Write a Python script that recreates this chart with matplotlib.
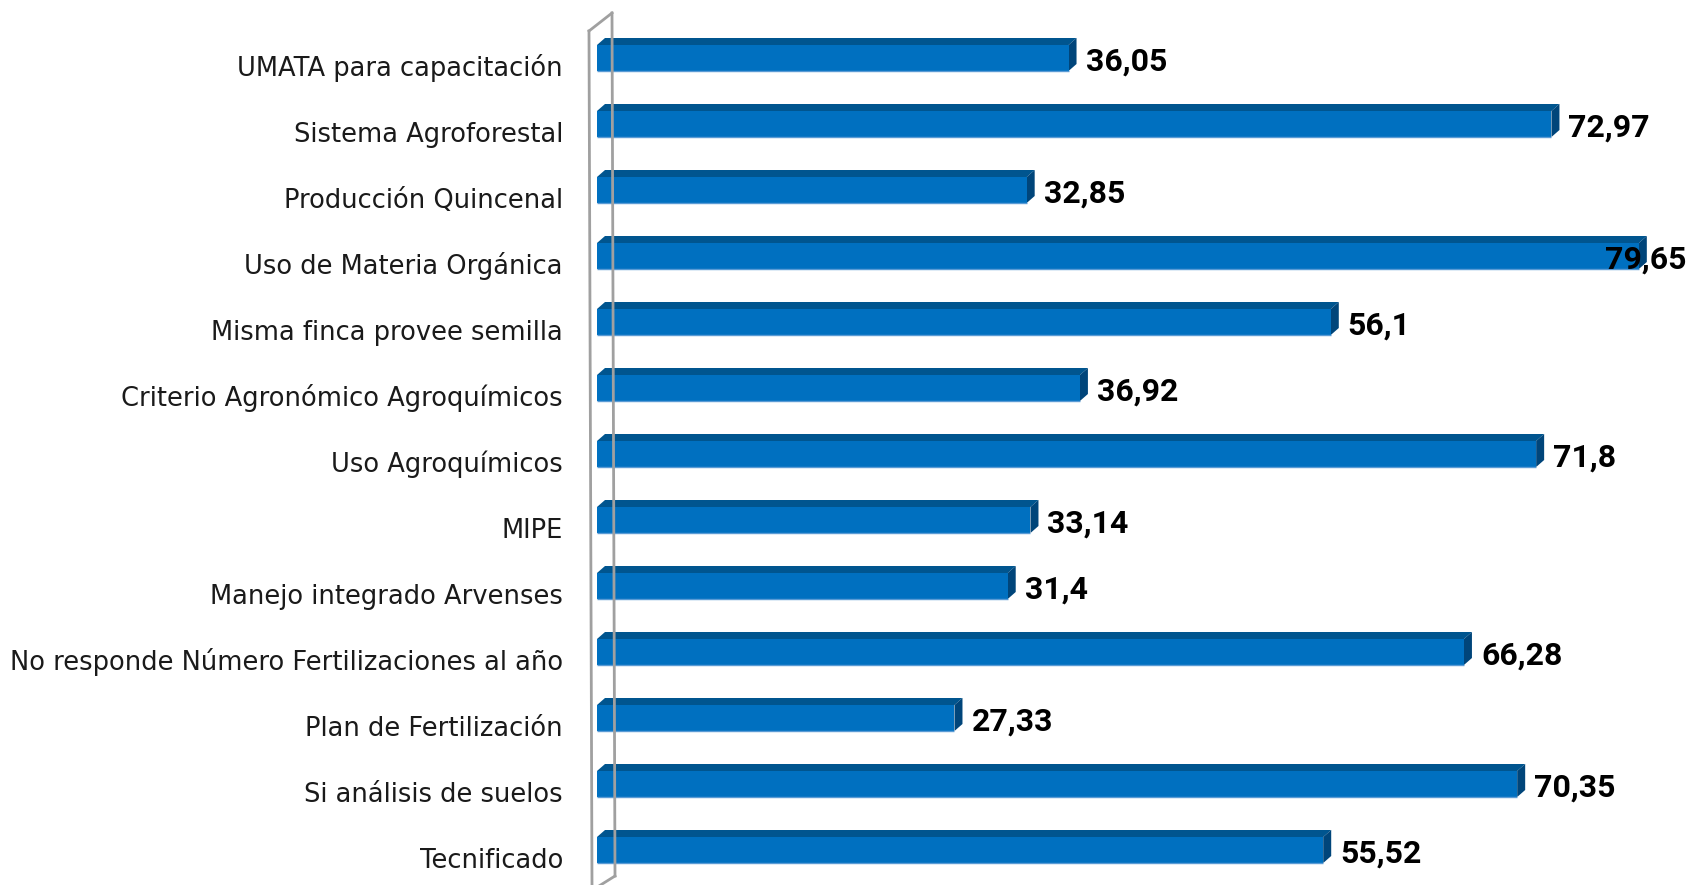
import matplotlib
matplotlib.use("Agg")
import matplotlib.pyplot as plt
from matplotlib.patches import Polygon, Rectangle
from matplotlib.lines import Line2D

categories = [
    "UMATA para capacitación",
    "Sistema Agroforestal",
    "Producción Quincenal",
    "Uso de Materia Orgánica",
    "Misma finca provee semilla",
    "Criterio Agronómico Agroquímicos",
    "Uso Agroquímicos",
    "MIPE",
    "Manejo integrado Arvenses",
    "No responde Número Fertilizaciones al año",
    "Plan de Fertilización",
    "Si análisis de suelos",
    "Tecnificado",
]
values = [36.05, 72.97, 32.85, 79.65, 56.1, 36.92, 71.8, 33.14, 31.4, 66.28, 27.33, 70.35, 55.52]
value_labels = ["36,05", "72,97", "32,85", "79,65", "56,1", "36,92", "71,8", "33,14", "31,4", "66,28", "27,33", "70,35", "55,52"]

W, H = 1692, 885
DPI = 100
fig = plt.figure(figsize=(W / DPI, H / DPI), dpi=DPI)
fig.patch.set_facecolor("white")

# layout in pixels
x0_px = 597.0          # x position of value 0
px_per_unit = 13.08
y0_px = 58.0           # centre of first bar front from top
pitch = 66.0
xmax = 80.0

ax = fig.add_axes([x0_px / W, 0, xmax * px_per_unit / W, 1])
ax.set_xlim(0, xmax)
ax.set_ylim((H - y0_px) / pitch, -y0_px / pitch)
ax.axis("off")

front_c = "#0070C0"
top_c = "#00558F"
side_c = "#00457A"
edge_c = "#5A9BD5"

h = 26.0 / pitch
dx = 8.0 / px_per_unit
dy = 7.0 / pitch

for i, v in enumerate(values):
    yt = i - h / 2
    yb = i + h / 2
    ax.add_patch(Polygon([(0, yt), (dx, yt - dy), (v + dx, yt - dy), (v, yt)],
                         closed=True, facecolor=top_c, edgecolor="none", clip_on=False))
    ax.add_patch(Polygon([(v, yt), (v + dx, yt - dy), (v + dx, yb - dy), (v, yb)],
                         closed=True, facecolor=side_c, edgecolor="none", clip_on=False))
    ax.add_patch(Rectangle((0, yt), v, h, facecolor=front_c, edgecolor="none", clip_on=False))
    ax.plot([0, v], [yb, yb], color=edge_c, lw=1.0, clip_on=False, solid_capstyle="butt")

    ax.text(-34.0 / px_per_unit, i + 18.0 / pitch, categories[i], ha="right", va="baseline",
            fontsize=18.5, family="DejaVu Sans", color="#1a1a1a", clip_on=False)

fig.canvas.draw()
renderer = fig.canvas.get_renderer()
for i, v in enumerate(values):
    yv = i + 13.0 / pitch
    t = ax.text(v + dx + 9.0 / px_per_unit, yv, value_labels[i], ha="left", va="baseline",
                fontsize=23, fontweight="bold", family="Roboto", color="black", clip_on=False)
    bb = t.get_window_extent(renderer)
    if bb.x1 > W - 4:
        t.remove()
        xr = ax.transData.inverted().transform((W - 6, 0))[0]
        ax.text(xr, yv, value_labels[i], ha="right", va="baseline",
                fontsize=23, fontweight="bold", family="Roboto", color="black", clip_on=False)

# 3D wall on the left
wall_c = "#A0A0A0"
lines = [
    [(589, 31), (612, 13)],
    [(589, 31), (592, 885)],
    [(612, 13), (615, 876)],
    [(615, 876), (599, 886)],
]
for seg in lines:
    (xa, ya), (xb, yb) = seg
    fig.add_artist(Line2D([xa / W, xb / W], [1 - ya / H, 1 - yb / H], color=wall_c, lw=2.0,
                          transform=fig.transFigure))

fig.savefig("out.png", dpi=DPI, facecolor="white")
